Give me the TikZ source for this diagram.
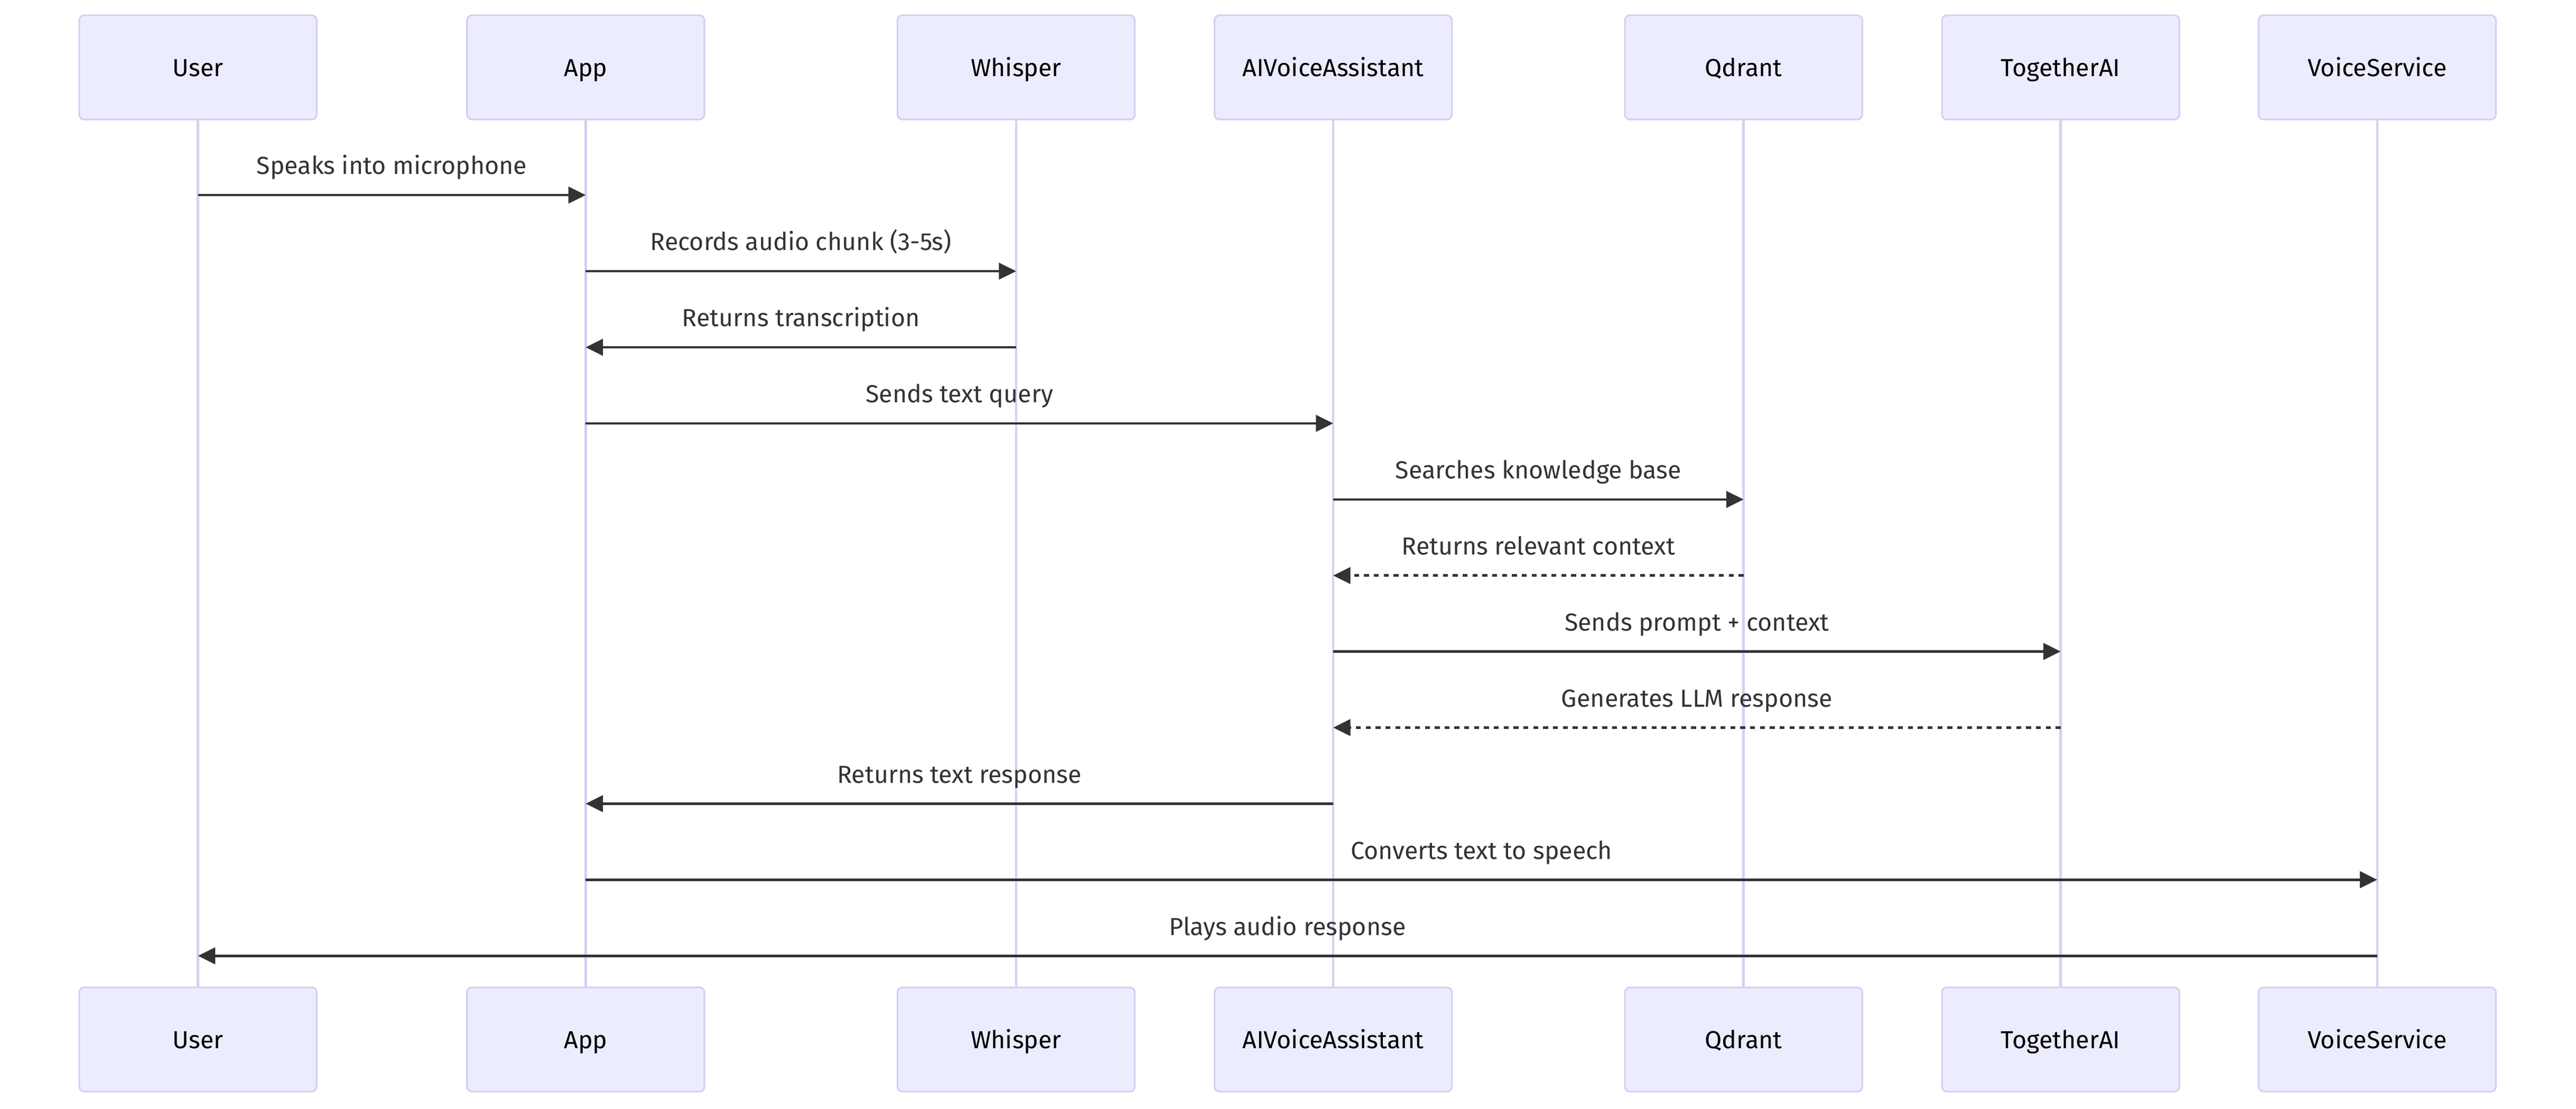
\documentclass[tikz,border=0pt]{standalone}
\usepackage{fontspec}
\setmainfont{Fira Sans}
\usetikzlibrary{arrows.meta}
\definecolor{actfill}{HTML}{ECECFF}
\definecolor{actline}{HTML}{D8CDF2}
\definecolor{msgc}{HTML}{333333}
\newcommand{\dfont}{\fontsize{15}{18}\selectfont}
\begin{document}
\begin{tikzpicture}[x=1pt,y=-1pt,
  actor/.style={draw=actline, fill=actfill, line width=1pt, rounded corners=3pt,
    minimum width=144.5pt, minimum height=63.4pt, inner sep=0pt,
    text height=11pt, text depth=0pt, font=\dfont, text=black},
  life/.style={draw=actline, line width=1.5pt},
  msg/.style={draw=msgc, line width=1.5pt, -{Triangle[length=10.5pt,width=10pt]}},
  reply/.style={msg, dash pattern=on 3pt off 3pt},
  lbl/.style={font=\dfont, text=msgc, anchor=base, inner sep=0pt, yshift=12.6pt}]
\useasboundingbox[fill=white] (0,0) rectangle (1568,674.5);
\foreach \nm/\xx/\tx in {u/120.5/User, a/356.5/App, w/618.5/Whisper, v/811.5/AIVoiceAssistant, q/1061.3/Qdrant, t/1254.3/TogetherAI, s/1447/VoiceService}{
  \node[actor] (\nm T) at (\xx,41) {\tx};
  \node[actor] (\nm B) at (\xx,632.5) {\tx};
}
\foreach \nm in {u,a,w,v,q,t,s}{
  \draw[life] (\nm T.south) -- (\nm B.north);
}
\coordinate (r1) at (0,118.7);
\coordinate (r2) at (0,165.0);
\coordinate (r3) at (0,211.3);
\coordinate (r4) at (0,257.6);
\coordinate (r5) at (0,303.9);
\coordinate (r6) at (0,350.2);
\coordinate (r7) at (0,396.4);
\coordinate (r8) at (0,442.7);
\coordinate (r9) at (0,489.0);
\coordinate (r10) at (0,535.3);
\coordinate (r11) at (0,581.6);
\draw[msg] (uT |- r1) -- (aT |- r1);
\path (uT |- r1) -- node[lbl]{Speaks into microphone} (aT |- r1);
\draw[msg] (aT |- r2) -- (wT |- r2);
\path (aT |- r2) -- node[lbl]{Records audio chunk (3-5s)} (wT |- r2);
\draw[msg] (wT |- r3) -- (aT |- r3);
\path (wT |- r3) -- node[lbl]{Returns transcription} (aT |- r3);
\draw[msg] (aT |- r4) -- (vT |- r4);
\path (aT |- r4) -- node[lbl]{Sends text query} (vT |- r4);
\draw[msg] (vT |- r5) -- (qT |- r5);
\path (vT |- r5) -- node[lbl]{Searches knowledge base} (qT |- r5);
\draw[reply] (qT |- r6) -- (vT |- r6);
\path (qT |- r6) -- node[lbl]{Returns relevant context} (vT |- r6);
\draw[msg] (vT |- r7) -- (tT |- r7);
\path (vT |- r7) -- node[lbl]{Sends prompt + context} (tT |- r7);
\draw[reply] (tT |- r8) -- (vT |- r8);
\path (tT |- r8) -- node[lbl]{Generates LLM response} (vT |- r8);
\draw[msg] (vT |- r9) -- (aT |- r9);
\path (vT |- r9) -- node[lbl]{Returns text response} (aT |- r9);
\draw[msg] (aT |- r10) -- (sT |- r10);
\path (aT |- r10) -- node[lbl]{Converts text to speech} (sT |- r10);
\draw[msg] (sT |- r11) -- (uT |- r11);
\path (sT |- r11) -- node[lbl]{Plays audio response} (uT |- r11);
\end{tikzpicture}
\end{document}
